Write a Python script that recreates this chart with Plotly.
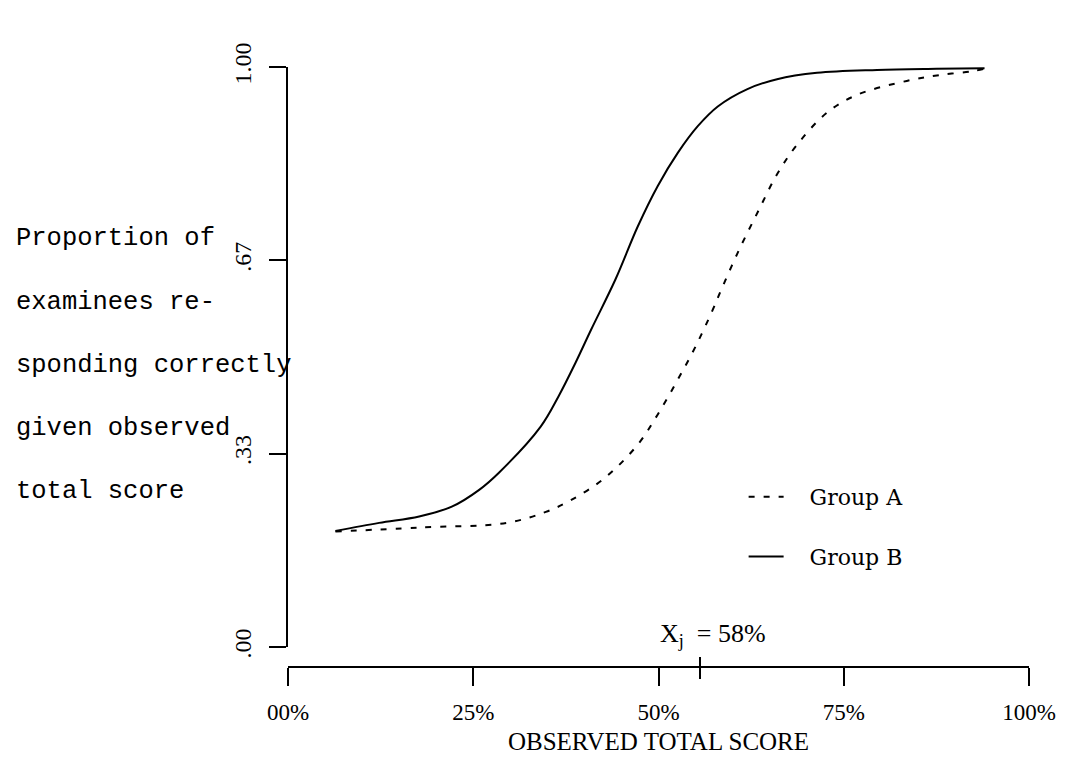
import plotly.graph_objects as go

# ---- data ----
score_a = [6.4, 17.7, 29.5, 34.8, 38.3, 42.8, 47.2, 49.9, 52.6, 55.0, 57.2, 58.3,
           60.7, 63.4, 66.0, 68.7, 72.8, 76.8, 83.5, 87.9, 92.5, 94.0]
prop_a = [0.199, 0.206, 0.214, 0.233, 0.254, 0.292, 0.349, 0.401, 0.461, 0.518, 0.578, 0.611,
          0.680, 0.750, 0.815, 0.866, 0.922, 0.952, 0.976, 0.986, 0.993, 0.997]

score_b = [6.4, 12.3, 17.7, 22.1, 25.8, 28.5, 34.1, 36.5, 38.8, 40.9, 44.2, 47.2,
           49.9, 52.6, 55.3, 58.0, 62.0, 66.0, 71.4, 79.5, 87.5, 94.0]
prop_b = [0.200, 0.214, 0.225, 0.242, 0.271, 0.301, 0.380, 0.432, 0.490, 0.547, 0.634, 0.725,
          0.795, 0.852, 0.898, 0.932, 0.962, 0.979, 0.990, 0.995, 0.997, 0.998]

x_tick_vals = [0, 25, 50, 75, 100]
x_tick_text = ["00%", "25%", "50%", "75%", "100%"]
y_tick_vals = [0, 1 / 3, 2 / 3, 1]
y_tick_text = [".00", ".33", ".67", "1.00"]
y_title_lines = ["Proportion of", "examinees re-", "sponding correctly",
                 "given observed", "total score"]
legend_names = ["Group A", "Group B"]
x_title = "OBSERVED TOTAL SCORE"
xj_value_label = "58%"
xj_marker = 55.6

# ---- layout geometry (page offset of 8 px from the default body margin) ----
off = 8
W, H = 1068 - off, 765 - off
ml, mr, mt, mb = 288 - off, 27, 68 - off - 1, 98
plot_w = W - ml - mr
plot_h = H - mt - mb
serif = "Liberation Serif"
mono = "Liberation Mono"


def px_x(page_x):
    return (page_x - off - ml) / plot_w


def px_y(page_y):
    return (H - mb - (page_y - off)) / plot_h


fig = go.Figure()
fig.add_trace(go.Scatter(
    x=score_a, y=prop_a, mode="lines", name="\u00a0\u00a0\u00a0" + legend_names[0],
    line=dict(color="black", width=2, dash="6px,9px", shape="spline"),
    legendgroup="a"))
fig.add_trace(go.Scatter(
    x=score_b, y=prop_b, mode="lines", name="\u00a0\u00a0\u00a0" + legend_names[1],
    line=dict(color="black", width=2, shape="spline"),
    legendgroup="b"))

fig.update_layout(
    width=W, height=H,
    margin=dict(l=ml, r=mr, t=mt, b=mb, pad=0),
    paper_bgcolor="white", plot_bgcolor="white",
    showlegend=True,
    legend=dict(x=px_x(751), y=px_y(476), xanchor="left", yanchor="top",
                font=dict(family="DejaVu Serif", size=22, color="black"),
                traceorder="grouped", tracegroupgap=28,
                bgcolor="rgba(0,0,0,0)", itemwidth=35),
    xaxis=dict(range=[0, 100], anchor="free", position=0,
               showline=True, linecolor="black", linewidth=2,
               ticks="outside", ticklen=18, tickwidth=2, tickcolor="black",
               tickvals=x_tick_vals, ticktext=x_tick_text,
               ticklabelstandoff=6,
               tickfont=dict(family=serif, size=23, color="black"),
               showgrid=False, zeroline=False,
               title=dict(text=x_title, standoff=8,
                          font=dict(family=serif, size=25, color="black"))),
    yaxis=dict(range=[0, 1], domain=[20 / plot_h, 1],
               showline=True, linecolor="black", linewidth=2,
               ticks="outside", ticklen=17, tickwidth=2, tickcolor="black",
               tickvals=y_tick_vals, ticktext=y_tick_text, tickangle=-90,
               ticklabelstandoff=8,
               tickfont=dict(family=serif, size=24, color="black"),
               showgrid=False, zeroline=False),
)

# left multi-line axis description
for i, line in enumerate(y_title_lines):
    fig.add_annotation(text=line, xref="paper", yref="paper",
                       x=px_x(10), y=px_y(239 + 63 * i),
                       xanchor="left", yanchor="middle", showarrow=False,
                       font=dict(family=mono, size=25.5, color="black"))

# X_j label
fig.add_annotation(text="X<sub>j</sub>\u00a0\u00a0=\u00a0" + xj_value_label,
                   xref="paper", yref="paper", x=px_x(664), y=px_y(635),
                   xanchor="left", yanchor="middle", showarrow=False,
                   font=dict(family=serif, size=26, color="black"))

# small I-bar marker on the x axis
fig.add_shape(type="line", xref="x", yref="paper", x0=xj_marker, x1=xj_marker,
              y0=-12 / plot_h, y1=10 / plot_h, line=dict(color="black", width=2))

fig.write_html("out.html")
